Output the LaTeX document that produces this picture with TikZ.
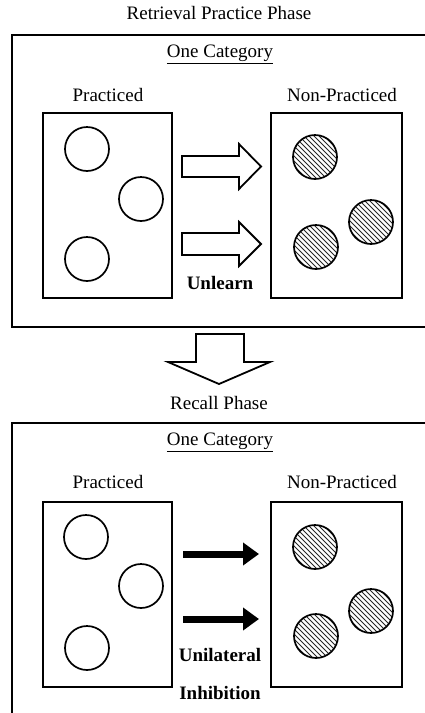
\documentclass[tikz,border=0pt]{standalone}
\usepackage{fontspec}
\setmainfont{Liberation Serif}
\usetikzlibrary{arrows.meta}
\tikzset{
  frame/.style={draw, line width=2pt},
  inbox/.style={draw, line width=2pt, minimum width=129pt, minimum height=185pt, inner sep=0pt},
  item/.style={draw, circle, line width=1.7pt, minimum size=44pt, inner sep=0pt},
  lbl/.style={inner sep=0pt, anchor=center},
  blk/.style={draw, line width=1.8pt, line join=miter},
  solidarrow/.style={line width=7pt, -{Triangle[width=22pt,length=16pt]}},
}
\newcommand\hatchitem[3]{%
  \begin{scope}
    \clip (#2,#3) circle (22pt);
    \foreach \k in {-60,-55,...,60}
      \draw[line width=0.8pt, black!85, shift={(#2,#3)}] (\k-30,-30) -- (\k+30,30);
  \end{scope}
  \node[item] (#1) at (#2,#3) {};
}
\begin{document}
\begin{tikzpicture}[x=1pt,y=-1pt,font=\fontsize{19}{22}\selectfont]
\clip (0,0) rectangle (425,713);
\fill[white] (0,0) rectangle (425,713);

% ---------- Retrieval practice phase ----------
\node[lbl] (t1) at (219,13) {Retrieval Practice Phase};
\draw[frame] (12,35) rectangle (445,327);
\node[lbl] (c1) at (220,54) {\underline{One Category}};
\node[lbl] (p1) at (108,95) {Practiced};
\node[lbl] (n1) at (342,95) {Non-Practiced};
\node[inbox] (bp1) at (107.5,205.5) {};
\node[inbox, minimum width=131pt] (bn1) at (336.5,205.5) {};
\node[item] (a1) at (87,149) {};
\node[item] (a2) at (141,199) {};
\node[item] (a3) at (87,259) {};
\hatchitem{h1}{315}{157}
\hatchitem{h2}{371}{222}
\hatchitem{h3}{316}{247}
\draw[blk] (182,156) -- (239,156) -- (239,144) -- (261,166.5) -- (239,189) -- (239,177) -- (182,177) -- cycle;
\draw[blk] (182,233) -- (239,233) -- (239,222) -- (261,244) -- (239,266) -- (239,255) -- (182,255) -- cycle;
\node[lbl, font=\fontsize{19}{22}\selectfont\bfseries] (u1) at (220,283) {Unlearn};

% ---------- transition ----------
\draw[blk] (196,334) -- (244,334) -- (244,362) -- (270,362) -- (219,384) -- (168,362) -- (196,362) -- cycle;

% ---------- Recall phase ----------
\node[lbl] (t2) at (219,403) {Recall Phase};
\draw[frame] (12,423) rectangle (445,740);
\node[lbl] (c2) at (220,442) {\underline{One Category}};
\node[lbl] (p2) at (108,482) {Practiced};
\node[lbl] (n2) at (342,482) {Non-Practiced};
\node[inbox] (bp2) at (107.5,594.5) {};
\node[inbox, minimum width=131pt] (bn2) at (336.5,594.5) {};
\node[item] (b1) at (86,537) {};
\node[item] (b2) at (141,586) {};
\node[item] (b3) at (87,648) {};
\hatchitem{k1}{315}{547}
\hatchitem{k2}{371}{611}
\hatchitem{k3}{316}{636}
\coordinate (s1) at (183,554);
\coordinate (e1) at (259,554);
\coordinate (s2) at (183,619);
\coordinate (e2) at (259,619);
\draw[solidarrow] (s1) -- (e1);
\draw[solidarrow] (s2) -- (e2);
\node[lbl, font=\fontsize{19}{22}\selectfont\bfseries] (u2) at (220,655) {Unilateral};
\node[lbl, font=\fontsize{19}{22}\selectfont\bfseries] (u3) at (220,693) {Inhibition};
\end{tikzpicture}
\end{document}
